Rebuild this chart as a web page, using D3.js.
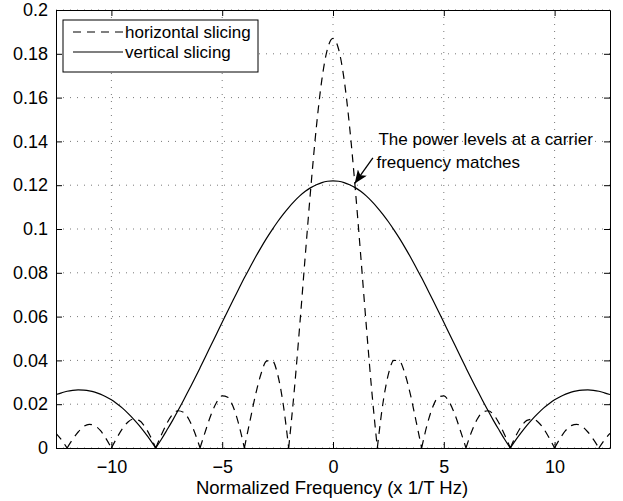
<!DOCTYPE html>
<html><head><meta charset="utf-8">
<script src="https://cdn.jsdelivr.net/npm/d3@7"></script>
<style>
html,body{margin:0;padding:0;background:#fff;}
svg{display:block;font-family:"Liberation Sans",Arial,Helvetica,sans-serif;}
</style></head>
<body><svg id="c" width="623" height="501"></svg>
<script>
const freq = [-12.5,-12.25,-12,-11.75,-11.5,-11.25,-11,-10.75,-10.5,-10.25,-10,-9.75,-9.5,-9.25,-9,-8.75,-8.5,-8.25,-8,-7.75,-7.5,-7.25,-7,-6.75,-6.5,-6.25,-6,-5.75,-5.5,-5.25,-5,-4.75,-4.5,-4.25,-4,-3.75,-3.5,-3.25,-3,-2.75,-2.5,-2.25,-2,-1.75,-1.5,-1.25,-1,-0.75,-0.5,-0.25,0,0.25,0.5,0.75,1,1.25,1.5,1.75,2,2.25,2.5,2.75,3,3.25,3.5,3.75,4,4.25,4.5,4.75,5,5.25,5.5,5.75,6,6.25,6.5,6.75,7,7.25,7.5,7.75,8,8.25,8.5,8.75,9,9.25,9.5,9.75,10,10.25,10.5,10.75,11,11.25,11.5,11.75,12,12.25,12.5];
const horizontalSlicing = [0.0067,0.0037,0,0.0039,0.0073,0.0098,0.0108,0.0102,0.0080,0.0044,0,0.0047,0.0089,0.0119,0.0132,0.0126,0.0099,0.0055,0,0.0059,0.0112,0.0152,0.0170,0.0163,0.0130,0.0073,0,0.0079,0.0153,0.0209,0.0238,0.0232,0.0187,0.0107,0,0.0122,0.0241,0.0338,0.0397,0.0400,0.0337,0.0202,0,0.0260,0.0561,0.0880,0.1190,0.1466,0.1684,0.1822,0.187,0.1822,0.1684,0.1466,0.1190,0.0880,0.0561,0.0260,0,0.0202,0.0337,0.0400,0.0397,0.0338,0.0241,0.0122,0,0.0107,0.0187,0.0232,0.0238,0.0209,0.0153,0.0079,0,0.0073,0.0130,0.0163,0.0170,0.0152,0.0112,0.0059,0,0.0055,0.0099,0.0126,0.0132,0.0119,0.0089,0.0047,0,0.0044,0.0080,0.0102,0.0108,0.0098,0.0073,0.0039,0,0.0037,0.0067];
const verticalSlicing = [0.0244,0.0252,0.0259,0.0263,0.0265,0.0264,0.0261,0.0255,0.0246,0.0234,0.0220,0.0202,0.0182,0.0158,0.0132,0.0103,0.0071,0.0037,0,0.0039,0.0081,0.0124,0.0170,0.0217,0.0266,0.0315,0.0366,0.0418,0.0470,0.0522,0.0574,0.0626,0.0677,0.0727,0.0777,0.0824,0.0871,0.0915,0.0957,0.0996,0.1033,0.1067,0.1098,0.1126,0.1151,0.1172,0.1189,0.1202,0.1212,0.1218,0.122,0.1218,0.1212,0.1202,0.1189,0.1172,0.1151,0.1126,0.1098,0.1067,0.1033,0.0996,0.0957,0.0915,0.0871,0.0824,0.0777,0.0727,0.0677,0.0626,0.0574,0.0522,0.0470,0.0418,0.0366,0.0315,0.0266,0.0217,0.0170,0.0124,0.0081,0.0039,0,0.0037,0.0071,0.0103,0.0132,0.0158,0.0182,0.0202,0.0220,0.0234,0.0246,0.0255,0.0261,0.0264,0.0265,0.0263,0.0259,0.0252,0.0244];
const xTicks = [-10,-5,0,5,10];
const xTickLabels = ["\u221210","\u22125","0","5","10"];
const yTicks = [0,0.02,0.04,0.06,0.08,0.1,0.12,0.14,0.16,0.18,0.2];
const yTickLabels = ["0","0.02","0.04","0.06","0.08","0.1","0.12","0.14","0.16","0.18","0.2"];
const legendLabels = ["horizontal slicing","vertical slicing"];
const xTitle = "Normalized Frequency (x 1/T Hz)";
const annotationLines = ["The power levels at a carrier","frequency matches"];
const arrowTip = [0.98, 0.1208];
const arrowTail = [1.8, 0.1325];
const textAnchorPt = [2.05, 0.1385];

const svg = d3.select("#c");
const L = 56, R = 610, T = 10, B = 448;
const x = d3.scaleLinear().domain([-12.5, 12.5]).range([L, R]);
const y = d3.scaleLinear().domain([0, 0.2]).range([B, T]);

// grid
const grid = svg.append("g").attr("stroke", "#555").attr("stroke-width", 0.8).attr("stroke-dasharray", "1,6");
grid.selectAll(".gx").data(xTicks).join("line")
  .attr("x1", d => x(d)).attr("x2", d => x(d)).attr("y1", T).attr("y2", B);
grid.selectAll(".gy").data(yTicks).join("line")
  .attr("x1", L).attr("x2", R).attr("y1", d => y(d)).attr("y2", d => y(d));

// split a series into lobes at zero points
function lobes(vals) {
  const out = []; let cur = [];
  vals.forEach((v, i) => {
    cur.push([freq[i], v]);
    if (v === 0 && cur.length > 1) { out.push(cur); cur = [[freq[i], v]]; }
  });
  if (cur.length > 1) out.push(cur);
  return out;
}
const line = d3.line().x(d => x(d[0])).y(d => y(d[1])).curve(d3.curveMonotoneX);
svg.append("clipPath").attr("id", "pc").append("rect")
  .attr("x", L).attr("y", T).attr("width", R - L).attr("height", B - T);
const plot = svg.append("g").attr("clip-path", "url(#pc)");
plot.append("path").attr("d", lobes(horizontalSlicing).map(line).join(""))
  .attr("fill", "none").attr("stroke", "#000").attr("stroke-width", 1.2).attr("stroke-dasharray", "8,6");
plot.append("path").attr("d", lobes(verticalSlicing).map(line).join(""))
  .attr("fill", "none").attr("stroke", "#000").attr("stroke-width", 1.2);

// axes
const xAxisB = d3.axisBottom(x).tickValues(xTicks).tickFormat((d, i) => xTickLabels[i]).tickSizeInner(-6).tickSizeOuter(0).tickPadding(12);
const xAxisT = d3.axisTop(x).tickValues(xTicks).tickFormat("").tickSizeInner(-6).tickSizeOuter(0);
const yAxisL = d3.axisLeft(y).tickValues(yTicks).tickFormat((d, i) => yTickLabels[i]).tickSizeInner(-6).tickSizeOuter(0).tickPadding(8);
const yAxisR = d3.axisRight(y).tickValues(yTicks).tickFormat("").tickSizeInner(-6).tickSizeOuter(0);
function style(g) {
  g.select(".domain").attr("stroke", "#000").attr("stroke-width", 1);
  g.selectAll(".tick line").attr("stroke", "#000").attr("stroke-width", 1);
  g.selectAll(".tick text").attr("fill", "#000").attr("font-size", 18).attr("font-family", "Liberation Sans, Arial, sans-serif");
}
svg.append("g").attr("transform", `translate(0,${B})`).call(xAxisB).call(style);
svg.append("g").attr("transform", `translate(0,${T})`).call(xAxisT).call(style);
svg.append("g").attr("transform", `translate(${L},0)`).call(yAxisL).call(style);
svg.append("g").attr("transform", `translate(${R},0)`).call(yAxisR).call(style);

svg.append("text").attr("x", (L + R) / 2 - 1).attr("y", 494).attr("text-anchor", "middle")
  .attr("font-size", 18.5).attr("fill", "#000").text(xTitle);

// legend
const lg = svg.append("g").attr("transform", "translate(63,20)");
lg.append("rect").attr("width", 195).attr("height", 52).attr("fill", "#fff").attr("stroke", "#000").attr("stroke-width", 1);
legendLabels.forEach((lab, i) => {
  const yy = 12 + i * 20;
  lg.append("line").attr("x1", 10).attr("x2", 60).attr("y1", yy).attr("y2", yy)
    .attr("stroke", "#000").attr("stroke-width", 1.2).attr("stroke-dasharray", i === 0 ? "8,6" : null);
  lg.append("text").attr("x", 62).attr("y", yy + 6).attr("font-size", 17).attr("fill", "#000").text(lab);
});

// annotation
const defs = svg.append("defs");
defs.append("marker").attr("id", "ah").attr("viewBox", "0 0 12 10").attr("refX", 12).attr("refY", 5)
  .attr("markerWidth", 15).attr("markerHeight", 11).attr("markerUnits", "userSpaceOnUse").attr("orient", "auto")
  .append("path").attr("d", "M0,0 L12,5 L0,10 L3,5 z").attr("fill", "#000");
svg.append("line").attr("x1", x(arrowTail[0])).attr("y1", y(arrowTail[1]))
  .attr("x2", x(arrowTip[0])).attr("y2", y(arrowTip[1]))
  .attr("stroke", "#000").attr("stroke-width", 1.3).attr("marker-end", "url(#ah)");
annotationLines.forEach((t, i) => {
  svg.append("text").attr("x", x(textAnchorPt[0]) - i * 2).attr("y", y(textAnchorPt[1]) + i * 23)
    .attr("font-size", 17).attr("fill", "#000").text(t);
});
</script></body></html>
